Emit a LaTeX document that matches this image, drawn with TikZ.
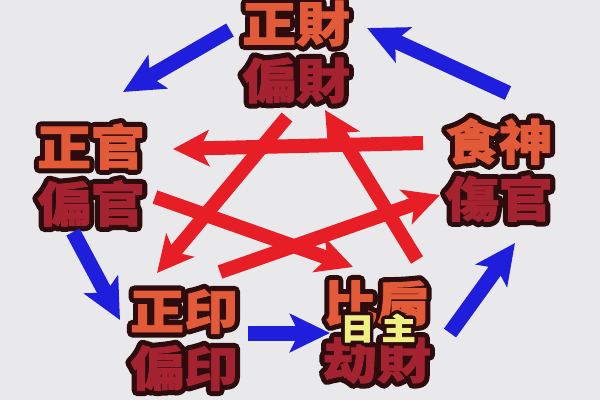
\documentclass[tikz,border=0pt]{standalone}
\usepackage{fontspec}
\usepackage{tikz}
\usetikzlibrary{arrows.meta}
\newfontfamily\cjk{Noto Sans CJK TC}[FakeStretch=1.12]
\definecolor{bg}{RGB}{233,233,236}
\definecolor{topred}{RGB}{226,90,56}
\definecolor{lowred}{RGB}{165,34,48}
\definecolor{rimdark}{RGB}{44,12,12}
\definecolor{dayyel}{RGB}{240,240,130}
\definecolor{kered}{RGB}{232,30,38}
\definecolor{shengblue}{RGB}{30,30,220}
\tikzstyle{god} = [align=center, inner sep=0pt, font=\cjk\bfseries\fontsize{48}{57}\selectfont]
\tikzstyle{sheng} = [line width=15pt, shengblue, -{Stealth[length=40pt,width=38pt,inset=9pt]}]
\tikzstyle{ke} = [line width=14pt, kered, -{Stealth[length=36pt,width=36pt,inset=9pt]}]
% glyphs stroked: #1 width, then back to plain fill
\newcommand{\stroked}[2]{\special{pdf:literal direct 1 j 2 Tr #1 w}#2\special{pdf:literal direct 0 Tr 0.4 w 0 j}}
% dark rim under the coloured glyphs
\newcommand{\rim}[3][11]{\rlap{\textcolor{rimdark}{\stroked{#1}{#3}}}\textcolor{#2}{\stroked{0.8}{#3}}}
\newcommand{\twin}[2]{\rim{topred}{#1}\\\rim{lowred}{#2}}

\begin{document}
\begin{tikzpicture}[x=1pt,y=-1pt]
			\fill[bg] (0,0) rectangle (600,400);
			\useasboundingbox (0,0) rectangle (600,400);
			% ten gods
			\node[god] (cai) at (296,52) {\twin{正財}{偏財}};
			\node[god] (guan) at (91,175) {\twin{正官}{偏官}};
			\node[god] (yin) at (184,340) {\twin{正印}{偏印}};
			\node[god] (jian) at (377,332) {\twin{比肩}{劫財}};
			\node[god] (shen) at (499,170) {\twin{食神}{傷官}};
			\node[font=\cjk\bfseries\fontsize{30}{30}\selectfont, inner sep=0pt] (rizhu) at (378,328) {\rim[8]{dayyel}{日\hspace{8pt}主}};
			% arrow ends
			\coordinate (s1a) at (230,30);  \coordinate (s1b) at (123,92);
			\coordinate (s2a) at (508,93);  \coordinate (s2b) at (367,28);
			\coordinate (s3a) at (73,232);  \coordinate (s3b) at (120,320);
			\coordinate (s4a) at (248,333); \coordinate (s4b) at (330,333);
			\coordinate (s5a) at (450,333); \coordinate (s5b) at (515,243);
			\coordinate (k1a) at (423,143); \coordinate (k1b) at (173,149);
			\coordinate (k2a) at (287,117); \coordinate (k2b) at (157,273);
			\coordinate (k3a) at (155,197); \coordinate (k3b) at (353,267);
			\coordinate (k4a) at (220,272); \coordinate (k4b) at (440,195);
			\coordinate (k5a) at (417,260); \coordinate (k5b) at (325,110);
			% generating cycle
			\foreach \i in {1,...,5}
				\draw[sheng] (s\i a) -- (s\i b);
			% controlling star
			\foreach \i in {1,...,5}
				\draw[ke] (k\i a) -- (k\i b);
		\end{tikzpicture}
\end{document}
